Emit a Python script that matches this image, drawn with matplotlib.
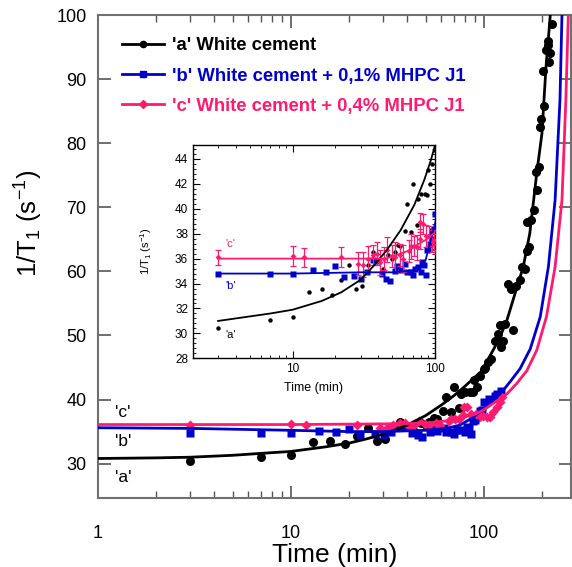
import matplotlib
matplotlib.use('Agg')
import matplotlib.pyplot as plt
from matplotlib.ticker import LogLocator, NullFormatter, AutoMinorLocator
from matplotlib.lines import Line2D

plt.rcParams['font.family'] = ['Liberation Sans', 'DejaVu Sans']
plt.rcParams['mathtext.default'] = 'regular'

# measured points: time (min) and 1/T1 (s^-1)
t_a = [3, 7, 10, 13, 16, 19, 22, 25, 28, 30.6, 33.6, 36.6, 43, 47, 50, 52, 55, 57,
       61.5, 64, 68, 70, 74.5, 76, 79.5, 85, 88, 88.6, 92, 96, 100, 102, 105.5, 109,
       114, 119, 121, 123, 126, 129, 134, 138, 141, 147, 154, 157, 163, 168, 168,
       172, 175, 181, 187, 188, 192, 195, 198, 202, 205, 210, 214, 215, 217, 221, 225]
y_a = [30.4, 31.1, 31.3, 33.3, 33.6, 33.1, 34.3, 35.5, 33.6, 33.8, 35.5, 36.5, 35.2,
       36.3, 36.0, 36.5, 37.1, 37.0, 38.2, 40.4, 38.1, 42.0, 38.7, 40.8, 41.2, 41.2,
       41.1, 43.1, 42.0, 43.6, 44.7, 45.0, 45.8, 46.4, 49.2, 50.3, 51.6, 48.2, 49.2,
       51.8, 58.1, 57.3, 50.8, 57.7, 58.6, 60.7, 60.3, 67.7, 63.2, 63.8, 68.0, 69.5,
       75.5, 72.7, 76.3, 82.5, 83.7, 91.3, 85.8, 94.6, 96.0, 95.3, 92.7, 94.0, 98.6]

t_b = [3, 7, 10, 14, 17.1, 20, 22.9, 27.2, 30.3, 33.2, 37, 39.5, 42.5, 45.4, 48,
       52.8, 54.4, 57.5, 62, 63.9, 67.3, 70.3, 72.5, 76, 79.5, 81.5, 84, 86, 88, 90,
       92, 94.6, 96, 97.8, 100, 106, 114, 117, 123]
y_b = [34.8, 34.8, 34.8, 35.1, 34.9, 35.4, 34.5, 34.6, 34.4, 34.9, 35.9, 35.8, 34.8,
       34.4, 34.2, 35.0, 35.4, 35.1, 35.6, 34.9, 34.9, 34.7, 35.2, 35.3, 34.9, 35.7,
       35.5, 34.7, 36.7, 36.8, 37.2, 37.6, 38.2, 38.4, 39.6, 40.1, 40.6, 40.9, 41.3]

t_c = [3, 10, 12, 22, 29, 31.4, 34, 36.6, 39, 41.3, 43.7, 46.1, 49.5, 52, 56.6, 59.5,
       65.7, 68, 71, 74.5, 78, 78.5, 82, 86, 91, 95, 99, 104, 108, 112, 117, 121, 124]
y_c = [36.1, 36.2, 36.1, 36.1, 35.6, 35.5, 36.0, 36.3, 36.4, 35.7, 36.0, 36.7, 36.2,
       36.1, 36.3, 36.0, 36.6, 37.0, 37.0, 36.9, 37.6, 38.9, 38.8, 37.8, 37.8, 37.4,
       37.5, 37.2, 37.2, 38.0, 38.8, 39.6, 40.4]
err_c = [0.6, 0.8, 0.75, 0.8, 0.9, 1.0, 1.0, 0.8, 0.9, 1.0, 0.9, 1.0, 0.9, 1.2, 0.9,
         1.1, 0.9, 1.0, 0.8, 1.0, 0.8, 0.75, 0.8, 0.9, 0.8, 0.9, 0.8, 0.8, 0.8, 0.8,
         0.8, 0.8, 0.8]

# fitted curves, main plot
fit_a_t = [1, 2, 3, 5, 7, 10, 15, 20, 25, 30, 35, 40, 50, 60, 70, 80, 90, 98, 108,
           119, 131.5, 145, 160, 173, 188, 200, 210, 221, 226]
fit_a_y = [30.8, 30.9, 31.0, 31.3, 31.6, 31.9, 32.6, 33.2, 33.9, 34.6, 35.3, 36.0,
           37.5, 39.1, 40.6, 42.1, 43.5, 44.5, 46.9, 49.2, 52.3, 56.5, 60.7, 65.9,
           75.3, 81.5, 91.9, 100, 104]
fit_b_t = [1, 3, 10, 20, 30, 50, 64, 75, 88, 100, 112, 125, 137, 154, 174, 196, 216,
           234, 248, 254, 256]
fit_b_y = [35.6, 35.5, 35.2, 35.0, 35.0, 35.2, 35.5, 36.0, 37.2, 38.6, 39.8, 41.3,
           42.8, 44.8, 47.9, 52.9, 60.7, 71.1, 86.7, 100, 104]
fit_c_t = [1, 10, 30, 50, 70, 90, 100, 117, 132, 148, 167, 188, 211, 234, 254, 266,
           274, 276]
fit_c_y = [36.1, 36.1, 36.2, 36.3, 36.8, 37.7, 38.4, 39.8, 40.9, 42.5, 44.5, 47.7,
           52.9, 60.7, 71.1, 86.7, 100, 104]

# fitted curves, inset
ins_a_t = [3, 7, 10, 16, 22, 30, 37, 46, 57.5, 71.5, 84, 93.6, 100, 103]
ins_a_y = [31.0, 31.6, 31.9, 32.6, 33.3, 34.3, 35.4, 36.7, 38.3, 40.3, 42.3, 43.9,
           45.1, 46.0]
ins_b_t = [3, 10, 30, 50, 64, 72, 79.5, 86, 91, 95.5, 100, 103]
ins_b_y = [34.8, 34.8, 34.9, 34.9, 35.0, 35.1, 35.3, 35.9, 37.0, 37.9, 38.8, 39.5]
ins_c_t = [3, 10, 30, 45, 51, 64, 75, 88.6, 100]
ins_c_y = [36.0, 36.0, 36.0, 36.0, 36.2, 36.6, 37.1, 37.6, 38.1]

labels = ["'a' White cement",
          "'b' White cement + 0,1% MHPC J1",
          "'c' White cement + 0,4% MHPC J1"]
black = '#000000'
blue = '#0000CC'
pink = '#FF1A70'

fig = plt.figure(figsize=(5.72, 5.67), dpi=100)
ax = fig.add_axes([0.1708, 0.1224, 0.8275, 0.8511])

ax.plot(t_a, y_a, 'o', color=black, ms=6.5, mec='none', zorder=2)
ax.plot(t_b, y_b, 's', color=blue, ms=6, mec='none', zorder=3)
ax.plot(t_c, y_c, 'D', color=pink, ms=5.2, mec='none', zorder=4)
ax.plot(fit_a_t, fit_a_y, '-', color=black, lw=2, zorder=5)
ax.plot(fit_b_t, fit_b_y, '-', color=blue, lw=2, zorder=5)
ax.plot(fit_c_t, fit_c_y, '-', color=pink, lw=2, zorder=5)

ax.set_xscale('log')
ax.set_xlim(1, 283)
ax.set_ylim(24.7, 100)
ax.set_xticks([1, 10, 100])
ax.set_xticklabels(['1', '10', '100'])
ax.xaxis.set_minor_locator(LogLocator(base=10, subs=range(2, 10)))
ax.xaxis.set_minor_formatter(NullFormatter())
ax.set_yticks(range(30, 101, 10))
ax.tick_params(which='both', direction='in', top=True, right=True,
               labelsize=13, color='#555555')
ax.tick_params(which='major', length=9, width=1.2)
ax.tick_params(which='minor', length=5, width=1)
ax.tick_params(axis='x', pad=20)
ax.tick_params(axis='y', pad=8)
for s in ax.spines.values():
    s.set_color('#707070')
    s.set_linewidth(1.5)

ax.set_xlabel('Time (min)', fontsize=19)
ax.xaxis.set_label_coords(0.5, -0.094)
ax.set_ylabel('1/T$_1$ (s$^{-1}$)', fontsize=18.5)
ax.yaxis.set_label_coords(-0.112, 0.569)

ax.text(1.23, 38.0, "'c'", fontsize=12.5, va='center')
ax.text(1.23, 33.4, "'b'", fontsize=12.5, va='center')
ax.text(1.23, 27.9, "'a'", fontsize=12.5, va='center')

handles = [Line2D([], [], color=black, lw=2, marker='o', ms=4.5),
           Line2D([], [], color=blue, lw=2, marker='s', ms=4.5),
           Line2D([], [], color=pink, lw=2, marker='D', ms=4)]
leg = ax.legend(handles, labels, loc='upper left', bbox_to_anchor=(0.0513, 0.954),
                frameon=False, borderaxespad=0, borderpad=0,
                prop={'weight': 'bold', 'size': 13.3}, handlelength=2.3,
                handletextpad=0.4, labelspacing=0.72)
for txt, c in zip(leg.get_texts(), [black, blue, pink]):
    txt.set_color(c)

# inset
axi = fig.add_axes([0.3374, 0.368, 0.4231, 0.376])
axi.errorbar(t_c, y_c, yerr=err_c, fmt='D', color=pink, ms=3, mec='none',
             elinewidth=0.9, capsize=2, capthick=0.9, zorder=4)
axi.plot(t_a, y_a, 'o', color=black, ms=3.2, mec='none', zorder=2)
axi.plot(t_b, y_b, 's', color=blue, ms=4.2, mec='none', zorder=3)
axi.plot(ins_a_t, ins_a_y, '-', color=black, lw=1.3, zorder=5)
axi.plot(ins_b_t, ins_b_y, '-', color=blue, lw=1.3, zorder=5)
axi.plot(ins_c_t, ins_c_y, '-', color=pink, lw=1.3, zorder=5)
axi.set_xscale('log')
axi.set_xlim(2, 100)
axi.set_ylim(28, 45.1)
axi.set_xticks([10, 100])
axi.set_xticklabels(['10', '100'])
axi.xaxis.set_minor_locator(LogLocator(base=10, subs=range(2, 10)))
axi.xaxis.set_minor_formatter(NullFormatter())
axi.set_yticks(range(28, 45, 2))
axi.yaxis.set_minor_locator(AutoMinorLocator(5))
axi.tick_params(which='both', direction='in', top=True, right=True, labelsize=8.5)
axi.tick_params(which='major', length=5)
axi.tick_params(which='minor', length=2.5)
for s in axi.spines.values():
    s.set_linewidth(1)
axi.set_xlabel('Time (min)', fontsize=9, labelpad=5)
axi.set_ylabel('1/T$_1$ (s$^{-1}$)', fontsize=8, labelpad=15)
axi.text(3.4, 37.2, "'c'", fontsize=8, color=pink, va='center')
axi.text(3.4, 33.8, "'b'", fontsize=8, color=blue, va='center')
axi.text(3.4, 29.9, "'a'", fontsize=8, color=black, va='center')

fig.savefig('out.png', dpi=100)
